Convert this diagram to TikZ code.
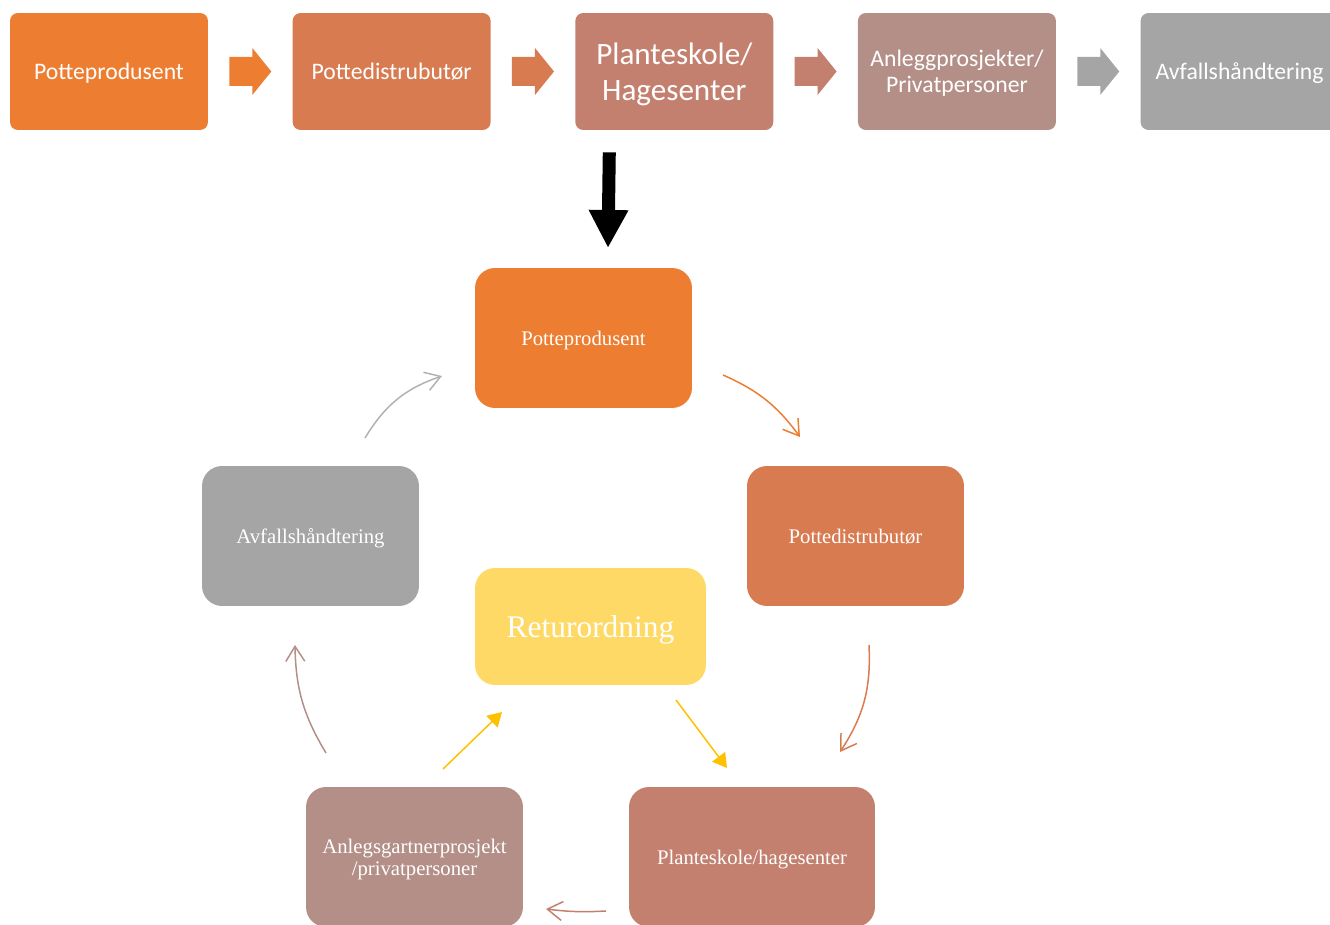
\documentclass[tikz,border=0pt]{standalone}
\usepackage{fontspec}
\setmainfont{Liberation Serif}
\newfontfamily\calib{Carlito}
\usepackage{xcolor}
\definecolor{potorange}{HTML}{ED7D31}
\definecolor{distorange}{HTML}{D87B51}
\definecolor{plantrose}{HTML}{C4806F}
\definecolor{anleggmauve}{HTML}{B38F88}
\definecolor{wastegray}{HTML}{A5A5A5}
\definecolor{returyellow}{HTML}{FFD966}
\definecolor{arrowyellow}{HTML}{FFC000}
\usepackage{tikz}
\usetikzlibrary{arrows.meta,positioning,calc}

\begin{document}
\begin{tikzpicture}[
  x=0.02cm, y=-0.02cm,
  node distance=1.68cm,
  topbox/.style={rectangle, rounded corners=4.5pt, minimum width=3.96cm,
                 minimum height=2.34cm, inner sep=0pt, align=center, text=white,
                 text depth=0pt, font=\calib\fontsize{13.5}{14.7}\selectfont},
  cycbox/.style={rectangle, rounded corners=0.4cm, minimum width=4.34cm,
                 minimum height=2.8cm, inner sep=0pt, align=center, text=white,
                 text depth=0pt, font=\fontsize{11.8}{12.5}\selectfont},
  cycarr/.style={line width=0.85pt, -{Straight Barb[length=0.3cm,width=0.38cm]}},
  yelarr/.style={line width=0.85pt, color=arrowyellow,
                 -{Triangle[length=0.28cm,width=0.32cm]}}
]
  \useasboundingbox (0,0) rectangle (1330,925);
  \clip (0,0) rectangle (1330,925);

  % top row
  \node[topbox, fill=potorange] (p1) at (109,71.5) {Potteprodusent};
  \node[topbox, fill=distorange, right=of p1] (p2) {Pottedistrubutør};
  \node[topbox, fill=plantrose, right=of p2,
        font=\calib\fontsize{17.7}{20.4}\selectfont] (p3) {Planteskole/\\Hagesenter};
  \node[topbox, fill=anleggmauve, right=of p3] (p4) {Anleggprosjekter/\\Privatpersoner};
  \node[topbox, fill=wastegray, right=of p4] (p5) {Avfallshåndtering};
  \foreach \s/\t/\c in {p1/p2/potorange, p2/p3/distorange, p3/p4/plantrose, p4/p5/wastegray}
    \fill[\c] ($(\s.east)!0.5!(\t.west)+(-21,-14.5)$) -- ++(23,0) -- ++(0,-9)
      -- ++(19,23.5) -- ++(-19,23.5) -- ++(0,-9) -- ++(-23,0) -- cycle;

  \coordinate (dn1) at ($(p3.south)+(-65,22)$);
  \coordinate (dn2) at (608,248);
  \draw[line width=0.26cm, -{Triangle[width=0.74cm,length=0.76cm]}] (dn1) -- (dn2);

  % cycle
  \node[cycbox, fill=potorange] (c1) at (583.5,338) {Potteprodusent};
  \node[cycbox, fill=distorange] (c2) at (855.5,536) {Pottedistrubutør};
  \node[cycbox, fill=plantrose, minimum width=4.92cm] (c3) at (752,857) {Planteskole/hagesenter};
  \node[cycbox, fill=anleggmauve] (c4) at (414.5,857) {Anlegsgartnerprosjekt\\/privatpersoner};
  \node[cycbox, fill=wastegray] (c5) at (310.5,536) {Avfallshåndtering};
  \node[cycbox, fill=returyellow, minimum width=4.62cm, minimum height=2.34cm,
        font=\fontsize{17.9}{20}\selectfont] (ret) at (590.5,626.5) {Returordning};

  \coordinate (g1) at (365,438);  \coordinate (g2) at (442,376);
  \coordinate (o1) at (723,375);  \coordinate (o2) at (800,437);
  \coordinate (d1) at (869,645);  \coordinate (d2) at (840,752);
  \coordinate (r1) at (606,911);  \coordinate (r2) at (546,909);
  \coordinate (m1) at (326,753);  \coordinate (m2) at (295,645);
  \coordinate (y1) at (443,769);  \coordinate (y2) at (502,712);
  \coordinate (y3) at (676,700);  \coordinate (y4) at (727,768);
  \draw[cycarr, color=wastegray!85] (g1) to[bend left=20] (g2);
  \draw[cycarr, color=potorange] (o1) to[bend left=15] (o2);
  \draw[cycarr, color=distorange] (d1) to[bend left=18] (d2);
  \draw[cycarr, color=plantrose] (r1) to[bend left=5] (r2);
  \draw[cycarr, color=anleggmauve] (m1) to[bend left=15] (m2);
  \draw[yelarr] (y1) -- (y2);
  \draw[yelarr] (y3) -- (y4);
\end{tikzpicture}
\end{document}
